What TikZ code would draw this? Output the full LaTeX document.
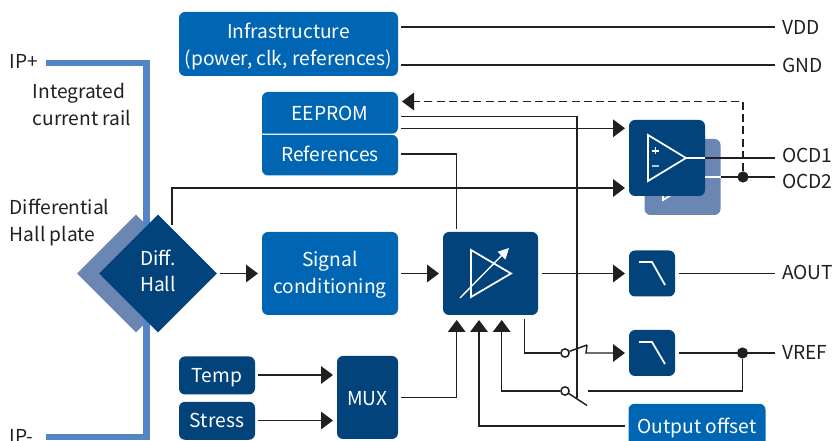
\documentclass[tikz,border=0pt]{standalone}
\usepackage{fontspec}
\setmainfont{Noto Sans CJK SC}
\usetikzlibrary{arrows.meta,calc,shapes.geometric}
\definecolor{bluebox}{HTML}{0066B3}
\definecolor{darkbox}{HTML}{03437B}
\definecolor{backbox}{HTML}{6B86B3}
\definecolor{railblue}{HTML}{5384C6}
\definecolor{wirecol}{HTML}{231F20}
\newcommand{\fs}{\fontsize{14.4pt}{20.2pt}\selectfont}
\newcommand{\fsh}{\fontsize{14.4pt}{19.5pt}\selectfont}
\tikzset{
  x=0.75pt,y=-0.75pt,
  boxbase/.style={rounded corners=4.5pt,inner sep=0pt,text=white,align=center,font=\fs,text height=10.5pt,text depth=0pt},
  blue box/.style={boxbase,fill=bluebox},
  dark box/.style={boxbase,fill=darkbox},
  back box/.style={boxbase,fill=backbox},
  boxtext/.style={text=white,align=center,font=\fs,inner sep=0pt},
  lbl/.style={anchor=west,inner sep=0pt,text=wirecol,font=\fs,align=left,text height=11pt,text depth=3pt},
  para/.style={anchor=west,inner sep=0pt,text=wirecol,font=\fs,align=left},
  wire/.style={draw=wirecol,line width=1.1pt},
  arr/.style={wire,-{Triangle[length=9pt,width=13.2pt]}},
  dot/.style={circle,fill=wirecol,inner sep=0pt,minimum size=8.4pt},
  sw/.style={circle,draw=wirecol,fill=white,line width=1.1pt,inner sep=0pt,minimum size=6.2pt},
  glyph/.style={draw=white,line width=1.3pt},
}
\begin{document}
\begin{tikzpicture}
\clip (0,0) rectangle (833,441);
% rail and back diamond
\node[diamond,aspect=1,fill=backbox,inner sep=0pt,minimum size=88.5pt] (hallback) at (136,273.5) {};
\coordinate (railA) at (46,63);
\coordinate (railB) at (146.5,63);
\coordinate (railC) at (146.5,437);
\coordinate (railD) at (46,437);
\draw[draw=railblue,line width=4.6pt] (railA) -- (railB) -- (railC) -- (railD);
\node[diamond,aspect=1,fill=darkbox,inner sep=0pt,minimum size=88.5pt] (hall) at (158,273.5) {};
\node[boxtext,font=\fsh] (halltext) at (158,271) {Diff.\\Hall};
% blue boxes
\node[blue box,minimum width=164.25pt,minimum height=48pt] (infra) at (288.5,44) {};
\node[boxtext] (infratext) at (288.5,46.5) {Infrastructure\\(power, clk, references)};
\path[fill=bluebox,rounded corners=4.5pt] (262,133.7) -- (262,92) -- (398,92) -- (398,133.7) [sharp corners] -- cycle;
\path[fill=bluebox,rounded corners=4.5pt] (262,135) -- (262,175.5) -- (398,175.5) -- (398,135) [sharp corners] -- cycle;
\node[boxbase,minimum width=102pt,minimum height=31pt] (eeprom) at (330,113.3) {EEPROM};
\node[boxbase,minimum width=102pt,minimum height=30pt] (refs) at (330,154.5) {References};
\node[blue box,minimum width=102pt,minimum height=62.25pt] (signal) at (330,273.5) {};
\node[boxtext] (signaltext) at (330,274.5) {Signal\\conditioning};
\node[blue box,minimum width=102.75pt,minimum height=34pt] (offset) at (697,426.5) {Output offset};
% dark boxes
\node[dark box,minimum width=57pt,minimum height=28.5pt] (temp) at (217,375.5) {Temp};
\node[dark box,minimum width=57pt,minimum height=28.5pt] (stress) at (217,420.8) {Stress};
\node[dark box,minimum width=45.75pt,minimum height=62.25pt] (mux) at (367.5,397.5) {};
\node[boxbase] (muxtext) at (367.5,398.5) {MUX};
\node[dark box,minimum width=71.25pt,minimum height=62.25pt] (amp) at (490.5,273.5) {};
\node[back box,minimum width=57pt,minimum height=57pt] (cmpback) at (682.5,177) {};
\draw[glyph] (663,154) -- (663,200) -- (701,177) -- cycle;
\node[dark box,minimum width=57pt,minimum height=57pt] (cmp) at (667,158) {};
\node[dark box,minimum width=34.5pt,minimum height=34.5pt] (filta) at (652,273.5) {};
\node[dark box,minimum width=34.5pt,minimum height=34.5pt] (filtb) at (652,353) {};
% glyphs
\draw[glyph] (648,135) -- (648,181) -- (686,158) -- cycle;
\draw[draw=white,line width=0.9pt] (652,151) -- (659,151) (655.5,147.5) -- (655.5,154.5);
\draw[draw=white!70!darkbox,line width=0.9pt] (652,166) -- (659,166);
\draw[glyph] (471,250) -- (471,297) -- (511,273.5) -- cycle;
\draw[draw=white,line width=1pt,-{Triangle[length=8pt,width=8pt]}] (460,298) -- (509,248);
\draw[glyph] (639,262) -- (652,262) -- (665,285);
\draw[glyph] (639,342) -- (652,342) -- (665,364);
\draw[draw=white,line width=1.1pt] (686,158) -- (705,158);
\draw[draw=white,line width=1.1pt] (705,177) -- (720.5,177);
% labels
\node[lbl] (ipp) at (9.5,63) {IP+};
\node[lbl] (ipm) at (9.5,438.5) {IP-};
\node[para] (railtxt) at (32.5,104.5) {Integrated\\current rail};
\node[para] (platetxt) at (9.5,222.5) {Differential\\Hall plate};
\node[lbl] (vdd) at (782,29) {VDD};
\node[lbl] (gnd) at (782,67) {GND};
\node[lbl] (ocda) at (782,157) {OCD1};
\node[lbl] (ocdb) at (782,183.5) {OCD2};
\node[lbl] (aout) at (782,274.5) {AOUT};
\node[lbl] (vref) at (782,354) {VREF};
% junctions and switches
\node[dot] (jocd) at (743,177) {};
\node[dot] (jvref) at (742.5,353) {};
\node[sw] (swa) at (565,353) {};
\node[sw] (swb) at (565,391) {};
\coordinate (swaend) at (587,345);
\coordinate (swbend) at (587,405.5);
% connectors
\draw[wire] (401,27) -- (775,27);
\draw[wire] (401,65) -- (775,65);
\draw[wire,dashed,dash pattern=on 6pt off 3.2pt] (jocd) -- (743,101.5) -- (412,101.5);
\draw[wire,{Triangle[length=9pt,width=13.2pt]}-] (402,101.5) -- (414,101.5);
\draw[wire] (401,116.7) -- (577,116.7) -- (577,398);
\draw[arr] (401,128.3) -- (625,128.3);
\draw[arr] (172,225) -- (172,188) -- (625,188);
\draw[wire] (401,154) -- (456.7,154) -- (456.7,229);
\draw[arr] (220,273.5) -- (258,273.5);
\draw[arr] (401,273.5) -- (439,273.5);
\draw[arr] (542,273.5) -- (625,273.5);
\draw[wire] (679,273.5) -- (775,273.5);
\draw[wire] (705,158) -- (775,158);
\draw[wire] (720.5,177) -- (775,177);
\draw[arr] (258,375) -- (333,375);
\draw[arr] (258,420.5) -- (333,420.5);
\draw[arr] (401,397.5) -- (456.7,397.5) -- (456.7,320);
\draw[arr] (625,426) -- (479,426) -- (479,320);
\draw[arr] (swb) -- (501.7,391) -- (501.7,320);
\draw[wire] (swb) -- (swbend);
\draw[wire] (524.7,319) -- (524.7,353) -- (swa);
\draw[wire] (swa) -- (swaend);
\draw[arr] (swaend) -- (586,353) -- (625,353);
\draw[wire] (679,353) -- (775,353);
\draw[wire] (jvref) -- (742.5,391) -- (588,391);
\end{tikzpicture}
\end{document}
